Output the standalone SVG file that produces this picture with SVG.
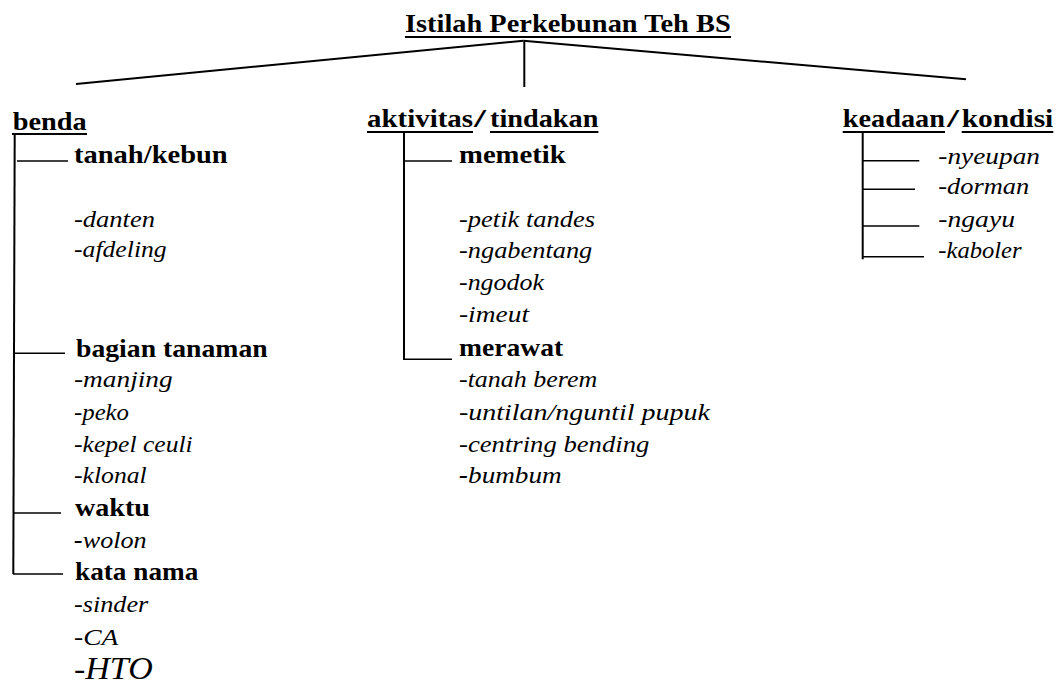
<svg xmlns="http://www.w3.org/2000/svg" width="1059" height="684" viewBox="0 0 1059 684">
<style>
text{font-family:"Liberation Serif","Times New Roman",serif;fill:#000}
.b{font-weight:bold;font-size:25px}
.i{font-style:italic;font-size:24px}
.ul{stroke:#000;stroke-width:2}
.ln{stroke:#000;stroke-width:2;fill:none}
.br{stroke:#000;stroke-width:1.6;fill:none}
</style>
<rect width="1059" height="684" fill="#fff"/>
<g id="connectors">
<line class="ln" x1="523.3" y1="40.7" x2="76" y2="84"/>
<line class="ln" x1="523.3" y1="40.7" x2="966" y2="79.3"/>
<line class="ln" x1="524.3" y1="41" x2="524.3" y2="87"/>
<line class="ln" x1="14.7" y1="134" x2="13.3" y2="574"/>
<line class="br" x1="17" y1="161" x2="68" y2="161"/>
<line class="br" x1="14.5" y1="353.3" x2="65" y2="353.3"/>
<line class="br" x1="13.5" y1="513" x2="61" y2="513"/>
<line class="br" x1="13" y1="574" x2="63" y2="574"/>
<line class="ln" x1="404" y1="133" x2="404" y2="359.3"/>
<line class="br" x1="403" y1="161" x2="452" y2="161"/>
<line class="br" x1="403" y1="359.3" x2="452" y2="359.3"/>
<line class="ln" x1="862.7" y1="133" x2="862.7" y2="259.3"/>
<line class="br" x1="863" y1="160.7" x2="919.3" y2="160.7"/>
<line class="br" x1="863" y1="189.3" x2="915" y2="189.3"/>
<line class="br" x1="863" y1="226" x2="919.3" y2="226"/>
<line class="br" x1="863" y1="256.7" x2="924" y2="256.7"/>
</g>
<g id="title">
<text class="b" x="405" y="31.7" textLength="325.7" lengthAdjust="spacingAndGlyphs">Istilah Perkebunan Teh BS</text>
<line class="ul" x1="405" y1="37" x2="731" y2="37"/>
</g>
<g id="benda">
<text class="b" x="12.7" y="130" textLength="74" lengthAdjust="spacingAndGlyphs">benda</text>
<line class="ul" x1="12" y1="134" x2="87" y2="134"/>
</g>
<g id="tanah-kebun">
<text class="b" x="74" y="163" textLength="153.7" lengthAdjust="spacingAndGlyphs">tanah/kebun</text>
<text class="i" x="74" y="227" textLength="81" lengthAdjust="spacingAndGlyphs">-danten</text>
<text class="i" x="74" y="257" textLength="92.7" lengthAdjust="spacingAndGlyphs">-afdeling</text>
</g>
<g id="bagian-tanaman">
<text class="b" x="76" y="357" textLength="191.7" lengthAdjust="spacingAndGlyphs">bagian tanaman</text>
<text class="i" x="74" y="387" textLength="98.7" lengthAdjust="spacingAndGlyphs">-manjing</text>
<text class="i" x="74" y="420" textLength="55" lengthAdjust="spacingAndGlyphs">-peko</text>
<text class="i" x="74" y="452" textLength="118.7" lengthAdjust="spacingAndGlyphs">-kepel ceuli</text>
<text class="i" x="74" y="483" textLength="72.7" lengthAdjust="spacingAndGlyphs">-klonal</text>
</g>
<g id="waktu">
<text class="b" x="75" y="516" textLength="75" lengthAdjust="spacingAndGlyphs">waktu</text>
<text class="i" x="74" y="548" textLength="72.7" lengthAdjust="spacingAndGlyphs"><tspan font-weight="bold">-</tspan>wolon</text>
</g>
<g id="kata-nama">
<text class="b" x="75" y="580" textLength="123.3" lengthAdjust="spacingAndGlyphs">kata nama</text>
<text class="i" x="74" y="612" textLength="74.3" lengthAdjust="spacingAndGlyphs">-sinder</text>
<text class="i" x="74" y="645" textLength="44.3" lengthAdjust="spacingAndGlyphs">-CA</text>
<text class="i" x="74" y="679" textLength="78.7" lengthAdjust="spacingAndGlyphs" style="font-size:31px">-HTO</text>
</g>
<g id="aktivitas-tindakan">
<text class="b" x="367" y="127" textLength="106" lengthAdjust="spacingAndGlyphs">aktivitas</text>
<text class="b" x="474" y="127" textLength="12" lengthAdjust="spacingAndGlyphs">/</text>
<text class="b" x="490" y="127" textLength="108.4" lengthAdjust="spacingAndGlyphs">tindakan</text>
<line class="ul" x1="367" y1="132" x2="473" y2="132"/>
<line class="ul" x1="490" y1="132" x2="598.4" y2="132"/>
</g>
<g id="memetik">
<text class="b" x="459" y="163" textLength="106.7" lengthAdjust="spacingAndGlyphs">memetik</text>
<text class="i" x="459" y="227" textLength="136" lengthAdjust="spacingAndGlyphs">-petik tandes</text>
<text class="i" x="459" y="258" textLength="133.3" lengthAdjust="spacingAndGlyphs">-ngabentang</text>
<text class="i" x="459" y="290" textLength="85" lengthAdjust="spacingAndGlyphs">-ngodok</text>
<text class="i" x="459" y="322" textLength="70" lengthAdjust="spacingAndGlyphs">-imeut</text>
</g>
<g id="merawat">
<text class="b" x="459" y="356" textLength="104.3" lengthAdjust="spacingAndGlyphs">merawat</text>
<text class="i" x="459" y="387" textLength="138.3" lengthAdjust="spacingAndGlyphs">-tanah berem</text>
<text class="i" x="459" y="420" textLength="251" lengthAdjust="spacingAndGlyphs">-untilan/nguntil pupuk</text>
<text class="i" x="459" y="452" textLength="190.3" lengthAdjust="spacingAndGlyphs">-centring bending</text>
<text class="i" x="459" y="483" textLength="102.7" lengthAdjust="spacingAndGlyphs"><tspan font-weight="bold">-</tspan>bumbum</text>
</g>
<g id="keadaan-kondisi">
<text class="b" x="842.7" y="127" textLength="102.3" lengthAdjust="spacingAndGlyphs">keadaan</text>
<text class="b" x="947" y="127" textLength="12" lengthAdjust="spacingAndGlyphs">/</text>
<text class="b" x="961.7" y="127" textLength="91.6" lengthAdjust="spacingAndGlyphs">kondisi</text>
<line class="ul" x1="842.7" y1="132" x2="945" y2="132"/>
<line class="ul" x1="961.7" y1="132" x2="1053.3" y2="132"/>
</g>
<g id="kondisi-items">
<text class="i" x="938.3" y="164" textLength="101.7" lengthAdjust="spacingAndGlyphs">-nyeupan</text>
<text class="i" x="938.3" y="194" textLength="91" lengthAdjust="spacingAndGlyphs">-dorman</text>
<text class="i" x="938.3" y="227" textLength="76.7" lengthAdjust="spacingAndGlyphs">-ngayu</text>
<text class="i" x="938.3" y="258" textLength="83.3" lengthAdjust="spacingAndGlyphs">-kaboler</text>
</g>
</svg>
